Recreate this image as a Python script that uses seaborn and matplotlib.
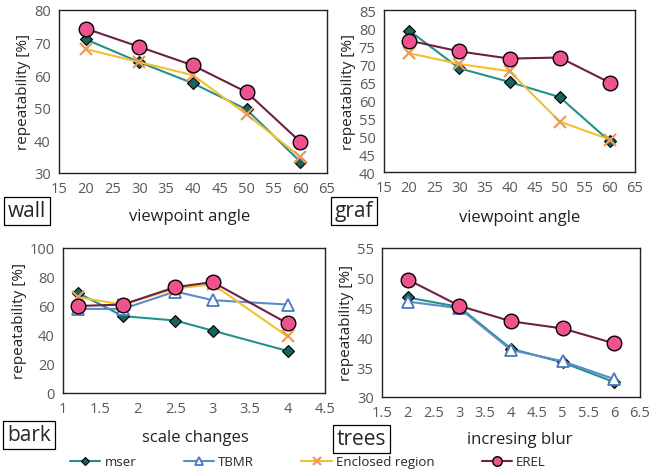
import numpy as np
import pandas as pd
import seaborn as sns
from matplotlib import pyplot as plt

sns.set_style('white')
plt.rcParams['font.family'] = ['Open Sans', 'DejaVu Sans']

# ---- data ----
wall_x = [20, 30, 40, 50, 60]
wall_mser = [71, 64, 57.5, 49.5, 33.5]
wall_encl = [68, 64, 60, 48, 35]
wall_erel = [74.3, 68.7, 63, 54.8, 39.6]

graf_x = [20, 30, 40, 50, 60]
graf_mser = [79.3, 68.8, 65, 60.8, 48.5]
graf_encl = [73, 70, 68, 54, 49]
graf_erel = [76.5, 73.5, 71.5, 71.8, 64.8]

bark_x = [1.2, 1.8, 2.5, 3, 4]
bark_mser = [69, 53, 50, 43, 29]
bark_tbmr = [58, 58, 70, 64, 61]
bark_encl = [66, 61, 72, 75, 39]
bark_erel = [60, 61, 73, 76.5, 48]

trees_x = [2, 3, 4, 5, 6]
trees_mser = [46.7, 45.1, 38.1, 35.8, 32.5]
trees_tbmr = [46, 44.9, 37.9, 36, 33]
trees_erel = [49.7, 45.3, 42.7, 41.5, 39]

names = ['mser', 'TBMR', 'Enclosed region', 'EREL']

# series styles
sty = {
    'mser': dict(color='#23918c', marker='D', markerfacecolor='#17645e', markeredgecolor='k', markersize=6, markeredgewidth=0.8),
    'TBMR': dict(color='#5b8bc9', marker='^', markerfacecolor='white', markeredgecolor='#4a78c0', markersize=8, markeredgewidth=1.3),
    'Enclosed region': dict(color='#f2c12e', marker='x', markerfacecolor='none', markeredgecolor='#ec9a5a', markersize=9, markeredgewidth=1.6),
    'EREL': dict(color='#6e1f44', marker='o', markerfacecolor='#f0528f', markeredgecolor='k', markersize=10.5, markeredgewidth=1.0),
}

panels = [
    ('wall', 'viewpoint angle', wall_x, [wall_mser, None, wall_encl, wall_erel], (15, 65, 5), (30, 80, 10)),
    ('graf', 'viewpoint angle', graf_x, [graf_mser, None, graf_encl, graf_erel], (15, 65, 5), (40, 85, 5)),
    ('bark', 'scale changes', bark_x, [bark_mser, bark_tbmr, bark_encl, bark_erel], (1, 4.5, 0.5), (0, 100, 20)),
    ('trees', 'incresing blur', trees_x, [trees_mser, trees_tbmr, None, trees_erel], (1.5, 6.5, 0.5), (30, 55, 5)),
]

# axes rectangles in pixels (left, top, right, bottom) of 652x477
W, H = 652, 477
rects = [(59, 11, 327, 174), (384, 11, 635, 173), (63, 249, 325, 394), (382, 249, 640, 398)]
# name box centres and xlabel centres (pixels)
boxpos = [(27, 212), (354, 212), (29, 436), (361, 440)]
labpos = [(190, 217), (520, 218), (195, 438), (520, 440)]

fig = plt.figure(figsize=(6.52, 4.77), dpi=100)

for i, (nm, xl, xs, ys, xr, yr) in enumerate(panels):
    l, t, r, b = rects[i]
    ax = fig.add_axes([l / W, 1 - b / H, (r - l) / W, (b - t) / H])
    # draw in order so EREL on top
    for k in [2, 1, 0, 3]:
        if ys[k] is None:
            continue
        s = sty[names[k]]
        sns.lineplot(x=xs, y=ys[k], ax=ax, linewidth=1.5, label=names[k], zorder=3 + k, **s)
    ax.set_xlim(xr[0], xr[1])
    ax.set_ylim(yr[0], yr[1])
    xt = np.arange(xr[0], xr[1] + 1e-9, xr[2])
    yt = np.arange(yr[0], yr[1] + 1e-9, yr[2])
    ax.set_xticks(xt)
    ax.set_yticks(yt)
    ax.set_xticklabels([f'{v:g}' for v in xt])
    ax.set_yticklabels([f'{v:g}' for v in yt])
    ax.tick_params(length=0, labelsize=10.5, labelcolor='#595959', pad=6)
    for sp in ax.spines.values():
        sp.set_color('#222222')
        sp.set_linewidth(1.0)
    ax.set_ylabel('repeatability [%]', fontsize=11, color='#222222', labelpad=2)
    ax.get_legend().remove()
    if i == 2:
        handles, labels = ax.get_legend_handles_labels()

    fig.text(boxpos[i][0] / W, 1 - boxpos[i][1] / H, nm, fontsize=15, ha='center', va='center',
             bbox=dict(boxstyle='square,pad=0.18', fc='white', ec='k', lw=0.9))
    fig.text(labpos[i][0] / W, 1 - labpos[i][1] / H, xl, fontsize=12, ha='center', va='center', color='#222222')

hmap = dict(zip(labels, handles))
fig.legend([hmap[n] for n in names], names, loc='center', bbox_to_anchor=(308 / W, 1 - 463 / H),
           ncol=4, frameon=False, fontsize=9.5, handlelength=2.3, columnspacing=3.6,
           handletextpad=0.3, markerscale=0.65)

fig.savefig('out.png', dpi=100)
